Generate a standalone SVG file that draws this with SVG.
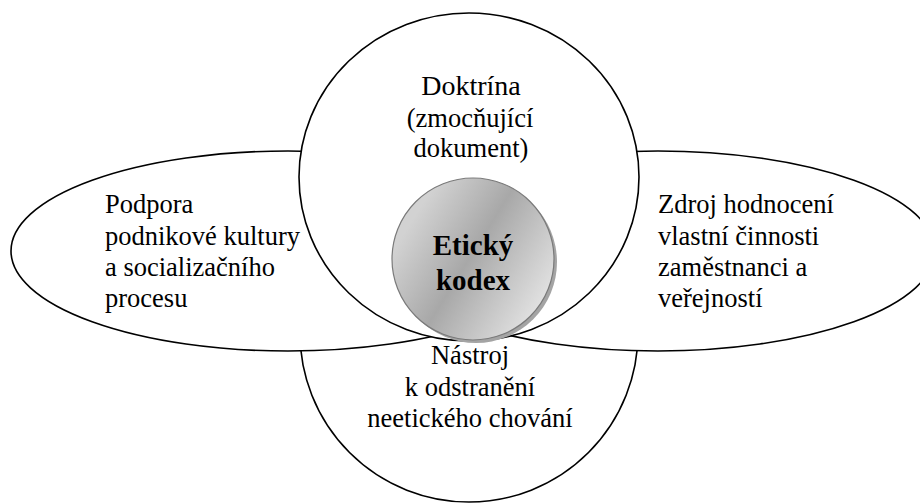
<svg xmlns="http://www.w3.org/2000/svg" width="920" height="504" viewBox="0 0 920 504">
<style>
.shape{fill:#fff;stroke:#000;stroke-width:1.6}
.t{font-family:"Liberation Serif","Times New Roman",serif;font-size:26.5px;fill:#000}
.c{text-anchor:middle}
.b{font-family:"Liberation Serif","Times New Roman",serif;font-size:29px;font-weight:bold;fill:#000;text-anchor:middle}
</style>
<defs>
<linearGradient id="g" x1="0.1" y1="0.3" x2="0.9" y2="0.8">
<stop offset="0" stop-color="#d2d2d2"/>
<stop offset="0.45" stop-color="#a8a8a8"/>
<stop offset="1" stop-color="#e0e0e0"/>
</linearGradient>
</defs>
<rect width="920" height="504" fill="#fff"/>
<g id="bottom">
<circle class="shape" cx="469" cy="333" r="169"/>
<text class="t c" x="470" y="364">Nástroj</text>
<text class="t c" x="470" y="396">k odstranění</text>
<text class="t c" x="470" y="427">neetického chování</text>
</g>
<g id="left">
<ellipse class="shape" cx="288" cy="251" rx="277" ry="100"/>
<text class="t" x="105" y="213">Podpora</text>
<text class="t" x="105" y="245">podnikové kultury</text>
<text class="t" x="105" y="276">a socializačního</text>
<text class="t" x="105" y="307">procesu</text>
</g>
<g id="right">
<ellipse class="shape" cx="658" cy="251" rx="277" ry="100"/>
<text class="t" x="658" y="213">Zdroj hodnocení</text>
<text class="t" x="658" y="245">vlastní činnosti</text>
<text class="t" x="658" y="276">zaměstnanci a</text>
<text class="t" x="658" y="307">veřejností</text>
</g>
<g id="top">
<ellipse class="shape" cx="469" cy="177" rx="170" ry="164"/>
<text class="t c" x="471" y="95" style="font-size:28px">Doktrína</text>
<text class="t c" x="470" y="127">(zmocňující</text>
<text class="t c" x="471" y="157">dokument)</text>
</g>
<g id="center">
<circle cx="476" cy="262" r="81" fill="#a4a4a4"/>
<circle cx="473" cy="259" r="81" fill="url(#g)" stroke="#7a7a7a" stroke-width="1.2"/>
<text class="b" x="473" y="255">Etický</text>
<text class="b" x="473" y="290">kodex</text>
</g>
<g id="connectors"></g>
</svg>
